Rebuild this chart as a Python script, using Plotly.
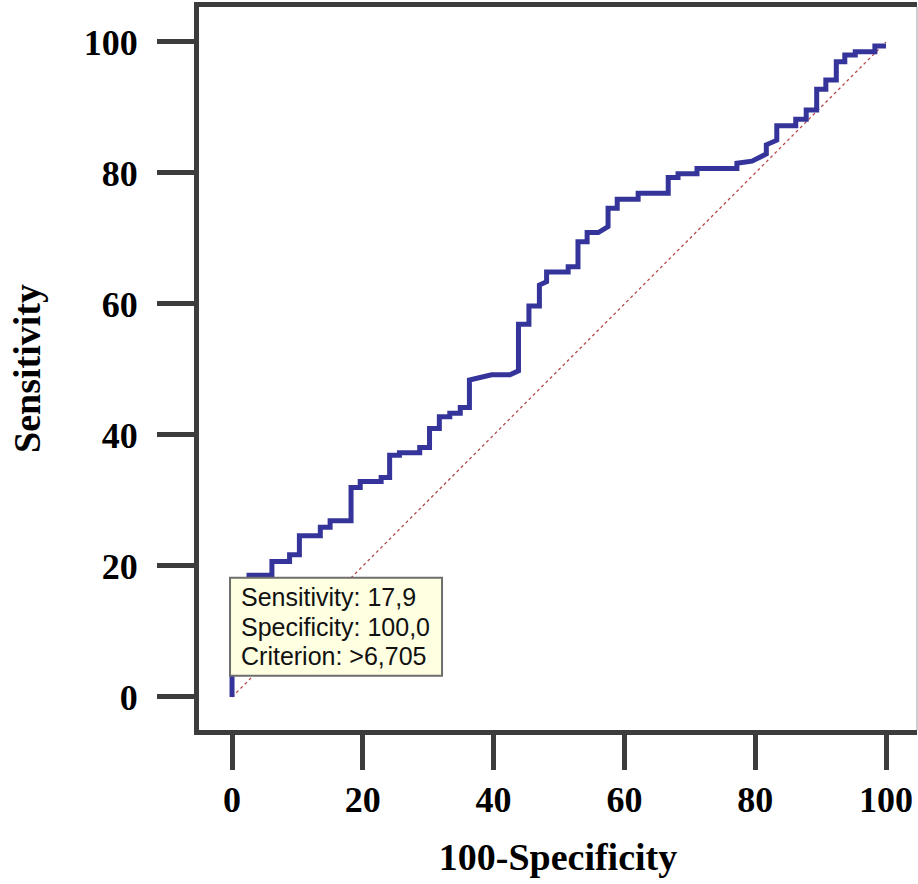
import plotly.graph_objects as go

# ROC curve vertices (100-Specificity, Sensitivity)
roc_fpr = [0, 0, 2.6, 2.6, 6.1, 6.1, 8.8, 8.8, 10.3, 10.3, 13.5, 13.5, 15.0, 15.0,
           18.2, 18.2, 19.6, 19.6, 22.8, 22.8, 24.1, 24.1, 25.6, 25.6, 28.7, 28.7,
           30.2, 30.2, 31.7, 31.7, 33.3, 33.3, 34.9, 34.9, 36.3, 36.3, 39.7, 42.5,
           43.8, 43.8, 45.4, 45.4, 47.0, 47.0, 48.1, 48.1, 51.4, 51.4, 52.9, 52.9,
           54.3, 54.3, 56.0, 57.5, 57.5, 58.9, 58.9, 62.1, 62.1, 66.7, 66.7, 68.2,
           68.2, 71.1, 71.1, 77.2, 77.2, 79.5, 81.7, 81.7, 83.3, 83.3, 86.2, 86.2,
           87.8, 87.8, 89.4, 89.4, 90.8, 90.8, 92.4, 92.4, 93.7, 93.7, 95.3, 95.3,
           98.3, 98.3, 100.0]
roc_sens = [0, 17.9, 17.9, 18.6, 18.6, 20.7, 20.7, 21.7, 21.7, 24.6, 24.6, 25.9, 25.9, 26.9,
            26.9, 32.0, 32.0, 32.9, 32.9, 33.5, 33.5, 36.9, 36.9, 37.3, 37.3, 38.1,
            38.1, 41.0, 41.0, 42.8, 42.8, 43.3, 43.3, 44.2, 44.2, 48.4, 49.2, 49.2,
            49.8, 56.9, 56.9, 59.7, 59.7, 62.9, 63.4, 64.9, 64.9, 65.7, 65.7, 69.5,
            69.5, 70.9, 70.9, 71.8, 74.6, 74.6, 76.0, 76.0, 76.9, 76.9, 79.3, 79.3,
            79.9, 79.9, 80.7, 80.7, 81.5, 81.8, 82.9, 84.3, 85.0, 87.2, 87.2, 88.2,
            88.2, 89.6, 89.6, 92.8, 92.8, 94.2, 94.2, 97.0, 97.0, 98.0, 98.0, 98.5,
            98.5, 99.4, 99.4]

diag_x = [0, 100]
diag_y = [0, 100]

tick_vals = [0, 20, 40, 60, 80, 100]
tick_text = ["0", "20", "40", "60", "80", "100"]

tip_lines = ["Sensitivity: 17,9", "Specificity: 100,0", "Criterion: >6,705"]
tip_point = (0, 17.9)

frame_col = "#3c3c3c"
serif = "Liberation Serif, Times New Roman, serif"

fig = go.Figure()
fig.add_trace(go.Scatter(x=diag_x, y=diag_y, mode="lines",
                         line=dict(color="#b44a4a", width=1.3, dash="dot"),
                         hoverinfo="skip", showlegend=False))
fig.add_trace(go.Scatter(x=roc_fpr, y=roc_sens, mode="lines",
                         line=dict(color="#34349a", width=5),
                         showlegend=False))

# tooltip box anchored at the highlighted point
fig.add_shape(type="rect", xref="x", yref="y",
              xsizemode="pixel", ysizemode="pixel",
              xanchor=tip_point[0], yanchor=tip_point[1],
              x0=-2, x1=210, y0=2, y1=-96,
              fillcolor="#ffffe1", line=dict(color="#6e6e6e", width=2), layer="above")
for i, line in enumerate(tip_lines):
    fig.add_annotation(x=tip_point[0], y=tip_point[1], xref="x", yref="y",
                       xanchor="left", yanchor="top", showarrow=False,
                       xshift=7, yshift=-1.7 - 29.5 * i, align="left",
                       text=line,
                       font=dict(family="Liberation Sans, Arial, sans-serif", size=25, color="#111111"))

# thin right border (reference frame is cut at the image edge)
fig.add_shape(type="line", xref="paper", yref="paper", x0=1, x1=1, y0=0, y1=1,
              line=dict(color="#9a9a9a", width=1))

fig.update_xaxes(range=[-5.05, 104.74], tickvals=tick_vals, ticktext=tick_text,
                 showgrid=False, zeroline=False,
                 showline=True, mirror=True, linecolor=frame_col, linewidth=5,
                 ticks="outside", ticklen=35, tickwidth=4.5, tickcolor=frame_col,
                 ticklabelstandoff=-1,
                 tickfont=dict(family=serif, size=36, color="black", weight="bold"),
                 title=dict(text="100-Specificity", standoff=26,
                            font=dict(family=serif, size=38, color="black", weight="bold")))
fig.update_yaxes(range=[-5.04, 105.34], tickvals=tick_vals, ticktext=tick_text,
                 showgrid=False, zeroline=False,
                 showline=True, mirror=False, linecolor=frame_col, linewidth=5,
                 ticks="outside", ticklen=37, tickwidth=4.5, tickcolor=frame_col,
                 ticklabelstandoff=12,
                 tickfont=dict(family=serif, size=36, color="black", weight="bold"),
                 title=dict(text="Sensitivity", standoff=33,
                            font=dict(family=serif, size=38, color="black", weight="bold")))

fig.update_layout(width=918, height=884,
                  margin=dict(l=199, r=1, t=7, b=154, autoexpand=False),
                  paper_bgcolor="white", plot_bgcolor="white",
                  hovermode="closest")

fig.write_html("out.html", config={"displayModeBar": False},
               post_script="document.body.style.margin='0';document.body.style.padding='0';")
